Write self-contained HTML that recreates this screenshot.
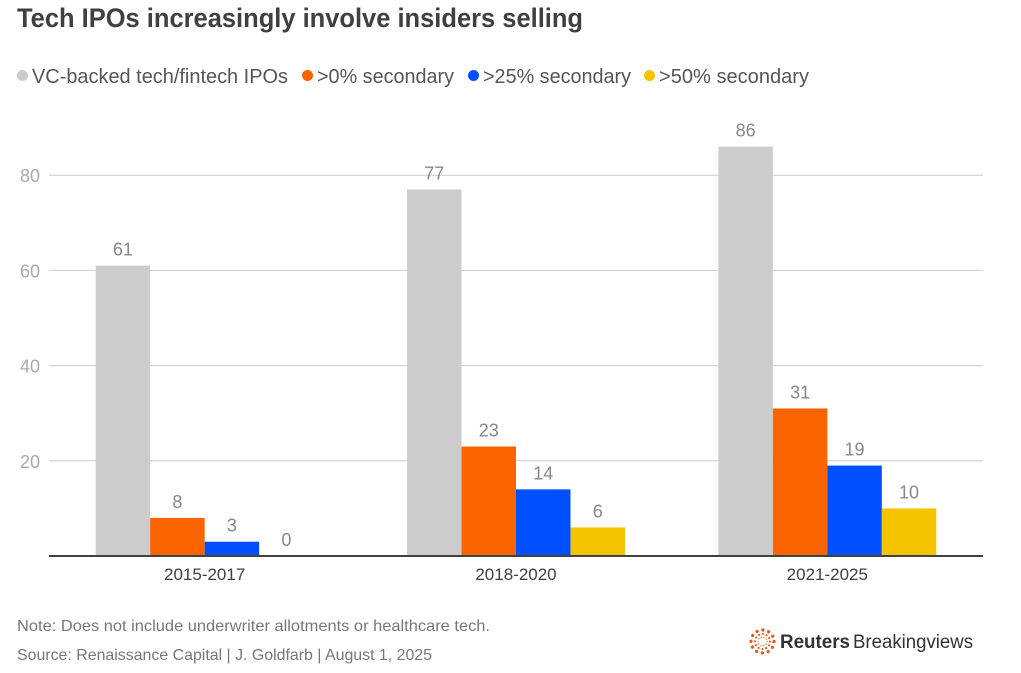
<!DOCTYPE html>
<html lang="en">
<head>
<meta charset="utf-8">
<title>Tech IPOs increasingly involve insiders selling</title>
<style>
html,body{margin:0;padding:0;background:#fff;width:1021px;height:673px;overflow:hidden}
svg{display:block;font-family:"Liberation Sans",sans-serif}
</style>
</head>
<body>
<svg id="chart" width="1021" height="673" viewBox="0 0 1021 673">
  <text x="17" y="27" font-size="27" font-weight="700" fill="#404040" textLength="566" lengthAdjust="spacingAndGlyphs">Tech IPOs increasingly involve insiders selling</text>
  <g>
    <g>
      <circle cx="22.500" cy="75.500" r="5.500" fill="#cccccc"/>
      <text x="32" y="83" font-size="20" fill="#555" textLength="256" lengthAdjust="spacingAndGlyphs">VC-backed tech/fintech IPOs</text>
    </g>
    <g>
      <circle cx="307.500" cy="75.500" r="5.500" fill="#fa6400"/>
      <text x="317" y="83" font-size="20" fill="#555" textLength="137" lengthAdjust="spacingAndGlyphs">&gt;0% secondary</text>
    </g>
    <g>
      <circle cx="473.500" cy="75.500" r="5.500" fill="#0050ff"/>
      <text x="483" y="83" font-size="20" fill="#555" textLength="148" lengthAdjust="spacingAndGlyphs">&gt;25% secondary</text>
    </g>
    <g>
      <circle cx="649.500" cy="75.500" r="5.500" fill="#f5c400"/>
      <text x="659" y="83" font-size="20" fill="#555" textLength="150" lengthAdjust="spacingAndGlyphs">&gt;50% secondary</text>
    </g>
  </g>
  <g id="grid"></g>
  <g id="yaxis"></g>
  <g id="bars"></g>
  <g id="labels"></g>
  <line x1="49" x2="983" y1="556" y2="556" stroke="#404040" stroke-width="2"/>
  <g id="xaxis"></g>
  <text x="17" y="631" font-size="16" fill="#777" textLength="473" lengthAdjust="spacingAndGlyphs">Note: Does not include underwriter allotments or healthcare tech.</text>
  <text x="17" y="660" font-size="16" fill="#777" textLength="415" lengthAdjust="spacingAndGlyphs">Source: Renaissance Capital | J. Goldfarb | August 1, 2025</text>
  <g>
    <g fill="none" stroke="#e8541a" stroke-linecap="round">
      <circle cx="762.500" cy="641.500" r="11.500" stroke-width="3.200" stroke-dasharray="0.100 5.920"/>
      <circle cx="762.500" cy="641.500" r="7.500" stroke-width="2" stroke-dasharray="0.100 3.830"/>
      <circle cx="762.500" cy="641.500" r="4.500" stroke-width="1.200" stroke-dasharray="0.100 2.730"/>
    </g>
    <text x="780" y="648" font-size="19" font-weight="700" fill="#333" textLength="70" lengthAdjust="spacingAndGlyphs">Reuters</text>
    <text x="853" y="648" font-size="19" fill="#333" textLength="120" lengthAdjust="spacingAndGlyphs">Breakingviews</text>
  </g>
</svg>
<script>
const categories = ["2015-2017", "2018-2020", "2021-2025"];
const seriesKeys = ["all-ipos", "over-0", "over-25", "over-50"];
const allIpos = [61, 77, 86];
const over0 = [8, 23, 31];
const over25 = [3, 14, 19];
const over50 = [0, 6, 10];
const yTicks = [20, 40, 60, 80];

const NS = "http://www.w3.org/2000/svg";
const seriesValues = [allIpos, over0, over25, over50];
const seriesColors = ["#cccccc", "#fa6400", "#0050ff", "#f5c400"];
const plotLeft = 49, plotRight = 983, baseY = 556, pxPerUnit = 4.76;
const bandWidth = (plotRight - plotLeft) / categories.length;
const barWidth = bandWidth * 0.7 / seriesValues.length;

function yScale(v) { return baseY - v * pxPerUnit; }
function bandCenter(i) { return plotLeft + bandWidth * (i + 0.5); }
function barLeft(i, s) { return bandCenter(i) - barWidth * seriesValues.length / 2 + s * barWidth; }
function make(tag, attrs, parent, content) {
  const el = document.createElementNS(NS, tag);
  for (const k in attrs) el.setAttribute(k, attrs[k]);
  if (content !== undefined) el.textContent = content;
  parent.appendChild(el);
  return el;
}

const gridG = document.getElementById("grid");
const yG = document.getElementById("yaxis");
yTicks.forEach(function (t) {
  const line = make("line", { x1: plotLeft, x2: plotRight, y1: yScale(t), y2: yScale(t), stroke: "#cccccc", "stroke-width": 1 }, gridG);
  
  
  const label = make("text", { x: 40, y: yScale(t) + 7, "text-anchor": "end", "font-size": 18, fill: "#aaaaaa" }, yG, t);
  
  
});

const barsG = document.getElementById("bars");
const labelsG = document.getElementById("labels");
seriesValues.forEach(function (vals, s) {
  vals.forEach(function (v, i) {
    const bar = make("rect", { x: barLeft(i, s), y: yScale(v), width: barWidth, height: baseY - yScale(v), fill: seriesColors[s] }, barsG);
    
    
    const label = make("text", { x: barLeft(i, s) + barWidth / 2, y: yScale(v) - 10, "text-anchor": "middle", "font-size": 18, fill: "#888888" }, labelsG, v);
    
    
  });
});

const xG = document.getElementById("xaxis");
categories.forEach(function (c, i) {
  const label = make("text", { x: bandCenter(i), y: 580, "text-anchor": "middle", "font-size": 17, fill: "#404040" }, xG, c);
  
  
});
</script>
</body>
</html>
